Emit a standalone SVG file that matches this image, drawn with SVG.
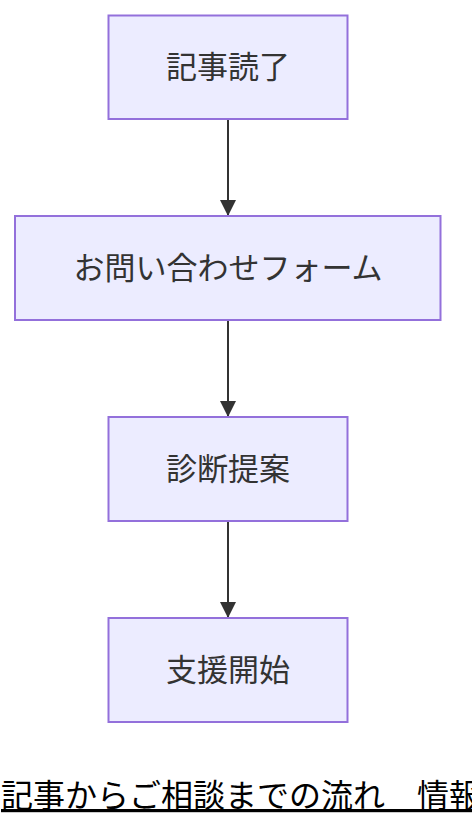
<svg xmlns="http://www.w3.org/2000/svg" width="472" height="828" viewBox="0 0 472 828">
<style>
.node rect{fill:#ECECFF;stroke:#9370DB;stroke-width:2}
.node text{font-family:"Noto Sans CJK JP","Noto Sans",sans-serif;font-size:31px;fill:#333;text-anchor:middle;dominant-baseline:central}
.edge{stroke:#333;stroke-width:2;fill:none}
.title{font-family:"Noto Sans CJK JP","Noto Sans",sans-serif;font-size:32px;fill:#000;text-decoration:underline}
</style>
<defs>
<marker id="ah" markerUnits="userSpaceOnUse" markerWidth="16" markerHeight="16" refX="16" refY="8" viewBox="0 0 16 16" orient="auto">
<path d="M0,0 L16,8 L0,16 z" fill="#333"/>
</marker>
</defs>
<g id="edges">
<path class="edge" d="M228,119 L228,216" marker-end="url(#ah)"/>
<path class="edge" d="M228,320 L228,417" marker-end="url(#ah)"/>
<path class="edge" d="M228,521 L228,618" marker-end="url(#ah)"/>
</g>
<g id="n1" class="node"><rect x="108.5" y="15.5" width="239" height="103.5"/><text x="228" y="64">記事読了</text></g>
<g id="n2" class="node"><rect x="15" y="216" width="425.5" height="104"/><text x="228" y="265">お問い合わせフォーム</text></g>
<g id="n3" class="node"><rect x="108.5" y="417" width="239" height="104"/><text x="228" y="466">診断提案</text></g>
<g id="n4" class="node"><rect x="108.5" y="618" width="239" height="104"/><text x="228" y="667">支援開始</text></g>
<text class="title" x="1" y="807">記事からご相談までの流れ　情報</text>
</svg>
